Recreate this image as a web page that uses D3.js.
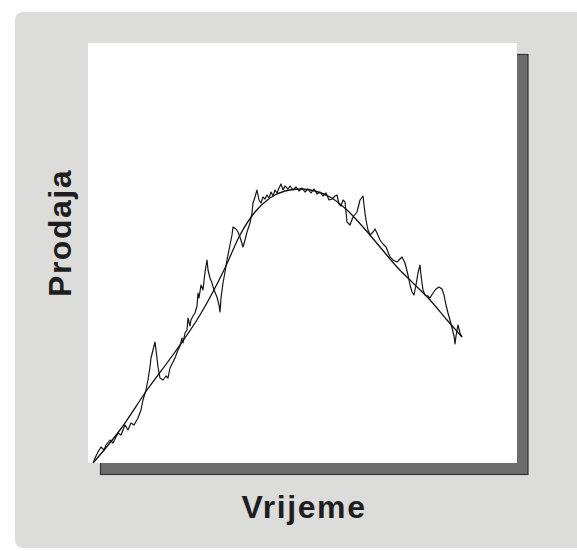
<!DOCTYPE html>
<html>
<head>
<meta charset="utf-8">
<script src="https://cdn.jsdelivr.net/npm/d3@7"></script>
<style>
  html, body { margin: 0; padding: 0; background: #fff; }
</style>
</head>
<body>
<div id="chart"></div>
<script>
// smooth trend (time, sales)
const trendTime = [6, 32, 59, 87, 112, 137, 152, 167, 182, 197, 212, 227, 242, 259, 275, 292, 309, 325, 342, 359, 374];
const trendSales = [1, 33, 73, 111, 148, 195, 228, 251, 265, 272, 274, 272, 266, 253, 236, 216, 196, 180, 163, 143, 126];

// actual (noisy) sales
const salesTime = [
  5, 8, 10, 13, 16, 18, 22, 25, 27, 30,
  33, 35, 37, 40, 43, 46, 50, 53, 55, 58,
  60, 62, 63, 65, 67, 68, 70, 72, 75, 78,
  80, 82, 84, 87, 90, 92, 94, 95, 97, 99,
  100, 102, 103, 105, 107, 109, 110, 111, 113, 115,
  117, 119, 120, 122, 124, 126, 129, 131, 132, 133,
  135, 137, 139, 142, 144, 145, 148, 150, 152, 155,
  157, 159, 162, 164, 165, 167, 169, 171, 173, 175,
  177, 179, 181, 183, 185, 187, 189, 191, 193, 195,
  197, 200, 202, 205, 208, 211, 214, 217, 220, 223,
  226, 229, 232, 235, 238, 241, 244, 247, 249, 251,
  253, 255, 257, 259, 262, 265, 269, 272, 275, 276,
  277, 278, 280, 282, 285, 287, 289, 292, 295, 298,
  300, 302, 305, 309, 312, 314, 317, 320, 322, 324,
  326, 328, 330, 332, 333, 334, 335, 337, 340, 342,
  345, 348, 351, 354, 356, 358, 360, 362, 364, 366,
  367, 368, 370, 372, 374
];
const salesValue = [
  0, 7, 11, 16, 13, 18, 23, 20, 24, 30,
  28, 33, 38, 33, 40, 38, 45, 53, 63, 73,
  83, 96, 105, 113, 121, 113, 96, 85, 83, 87,
  85, 95, 99, 105, 113, 117, 125, 120, 130, 133,
  145, 137, 143, 147, 150, 157, 170, 165, 178, 173,
  191, 203, 193, 185, 180, 173, 166, 158, 151, 165,
  180, 191, 203, 218, 228, 236, 234, 231, 226, 216,
  223, 231, 240, 250, 260, 266, 273, 263, 260, 266,
  264, 268, 265, 271, 267, 273, 270, 275, 279, 273,
  277, 274, 277, 273, 276, 272, 275, 271, 274, 270,
  274, 269, 271, 267, 270, 263, 264, 267, 268, 259,
  257, 263, 261, 241, 238, 246, 251, 263, 267, 258,
  250, 243, 233, 228, 231, 234, 230, 223, 219, 216,
  211, 206, 203, 201, 204, 206, 200, 188, 178, 171,
  168, 178, 190, 198, 188, 180, 173, 168, 167, 165,
  170, 174, 176, 174, 168, 158, 150, 143, 135, 127,
  119, 127, 138, 130, 126
];

const xLabel = "Vrijeme";
const yLabel = "Prodaja";

function SalesChart(elementId, {
  width = 577,
  height = 551,
  marginLeft = 88,
  marginTop = 43,
  plotWidth = 429,
  plotHeight = 420,
  shadowOffset = 11,
  panelColor = "#dcdcdb",
  shadowColor = "#6c6c6c",
  textColor = "#1e1e1e",
} = {}) {
  const xScale = d3.scaleLinear([0, 429], [marginLeft, marginLeft + plotWidth]);
  const yScale = d3.scaleLinear([0, 420], [marginTop + plotHeight, marginTop]);

  const svg = d3.select('#' + elementId)
    .append("svg")
      .attr("width", width)
      .attr("height", height)
      .attr("viewBox", [0, 0, width, height])
      .style("display", "block");

  // grey panel
  svg.append("rect")
    .attr("x", 15)
    .attr("y", 12)
    .attr("width", width)
    .attr("height", 536)
    .attr("rx", 8)
    .attr("fill", panelColor);

  // drop shadow of the plot box
  svg.append("rect")
    .attr("x", marginLeft + shadowOffset + 1.5)
    .attr("y", marginTop + shadowOffset + 0.5)
    .attr("width", plotWidth - 1.5)
    .attr("height", plotHeight)
    .attr("fill", shadowColor)
    .attr("stroke", "#333")
    .attr("stroke-width", 1.2);

  svg.append("rect")
    .attr("x", marginLeft)
    .attr("y", marginTop)
    .attr("width", plotWidth)
    .attr("height", plotHeight)
    .attr("fill", "#fff");

  const trend = d3.range(trendTime.length).map(i => [trendTime[i], trendSales[i]]);
  const sales = d3.range(salesTime.length).map(i => [salesTime[i], salesValue[i]]);

  const line = d3.line()
    .x(d => xScale(d[0]))
    .y(d => yScale(d[1]));

  svg.append("path")
    .datum(trend)
    .attr("fill", "none")
    .attr("stroke", "#111")
    .attr("stroke-width", 1.3)
    .attr("d", line.curve(d3.curveMonotoneX));

  svg.append("path")
    .datum(sales)
    .attr("fill", "none")
    .attr("stroke", "#151515")
    .attr("stroke-width", 1.2)
    .attr("stroke-linejoin", "round")
    .attr("d", line.curve(d3.curveLinear));

  svg.append("text")
    .attr("x", 304)
    .attr("y", 518)
    .attr("text-anchor", "middle")
    .attr("font-family", "'Liberation Sans', Arial, sans-serif")
    .attr("font-weight", "bold")
    .attr("font-size", 32)
    .attr("letter-spacing", 1.6)
    .attr("fill", textColor)
    .text(xLabel);

  svg.append("text")
    .attr("transform", "translate(71,233) rotate(-90)")
    .attr("text-anchor", "middle")
    .attr("font-family", "'Liberation Sans', Arial, sans-serif")
    .attr("font-weight", "bold")
    .attr("font-size", 32)
    .attr("letter-spacing", 1.5)
    .attr("fill", textColor)
    .text(yLabel);
}

SalesChart("chart");
</script>
</body>
</html>
